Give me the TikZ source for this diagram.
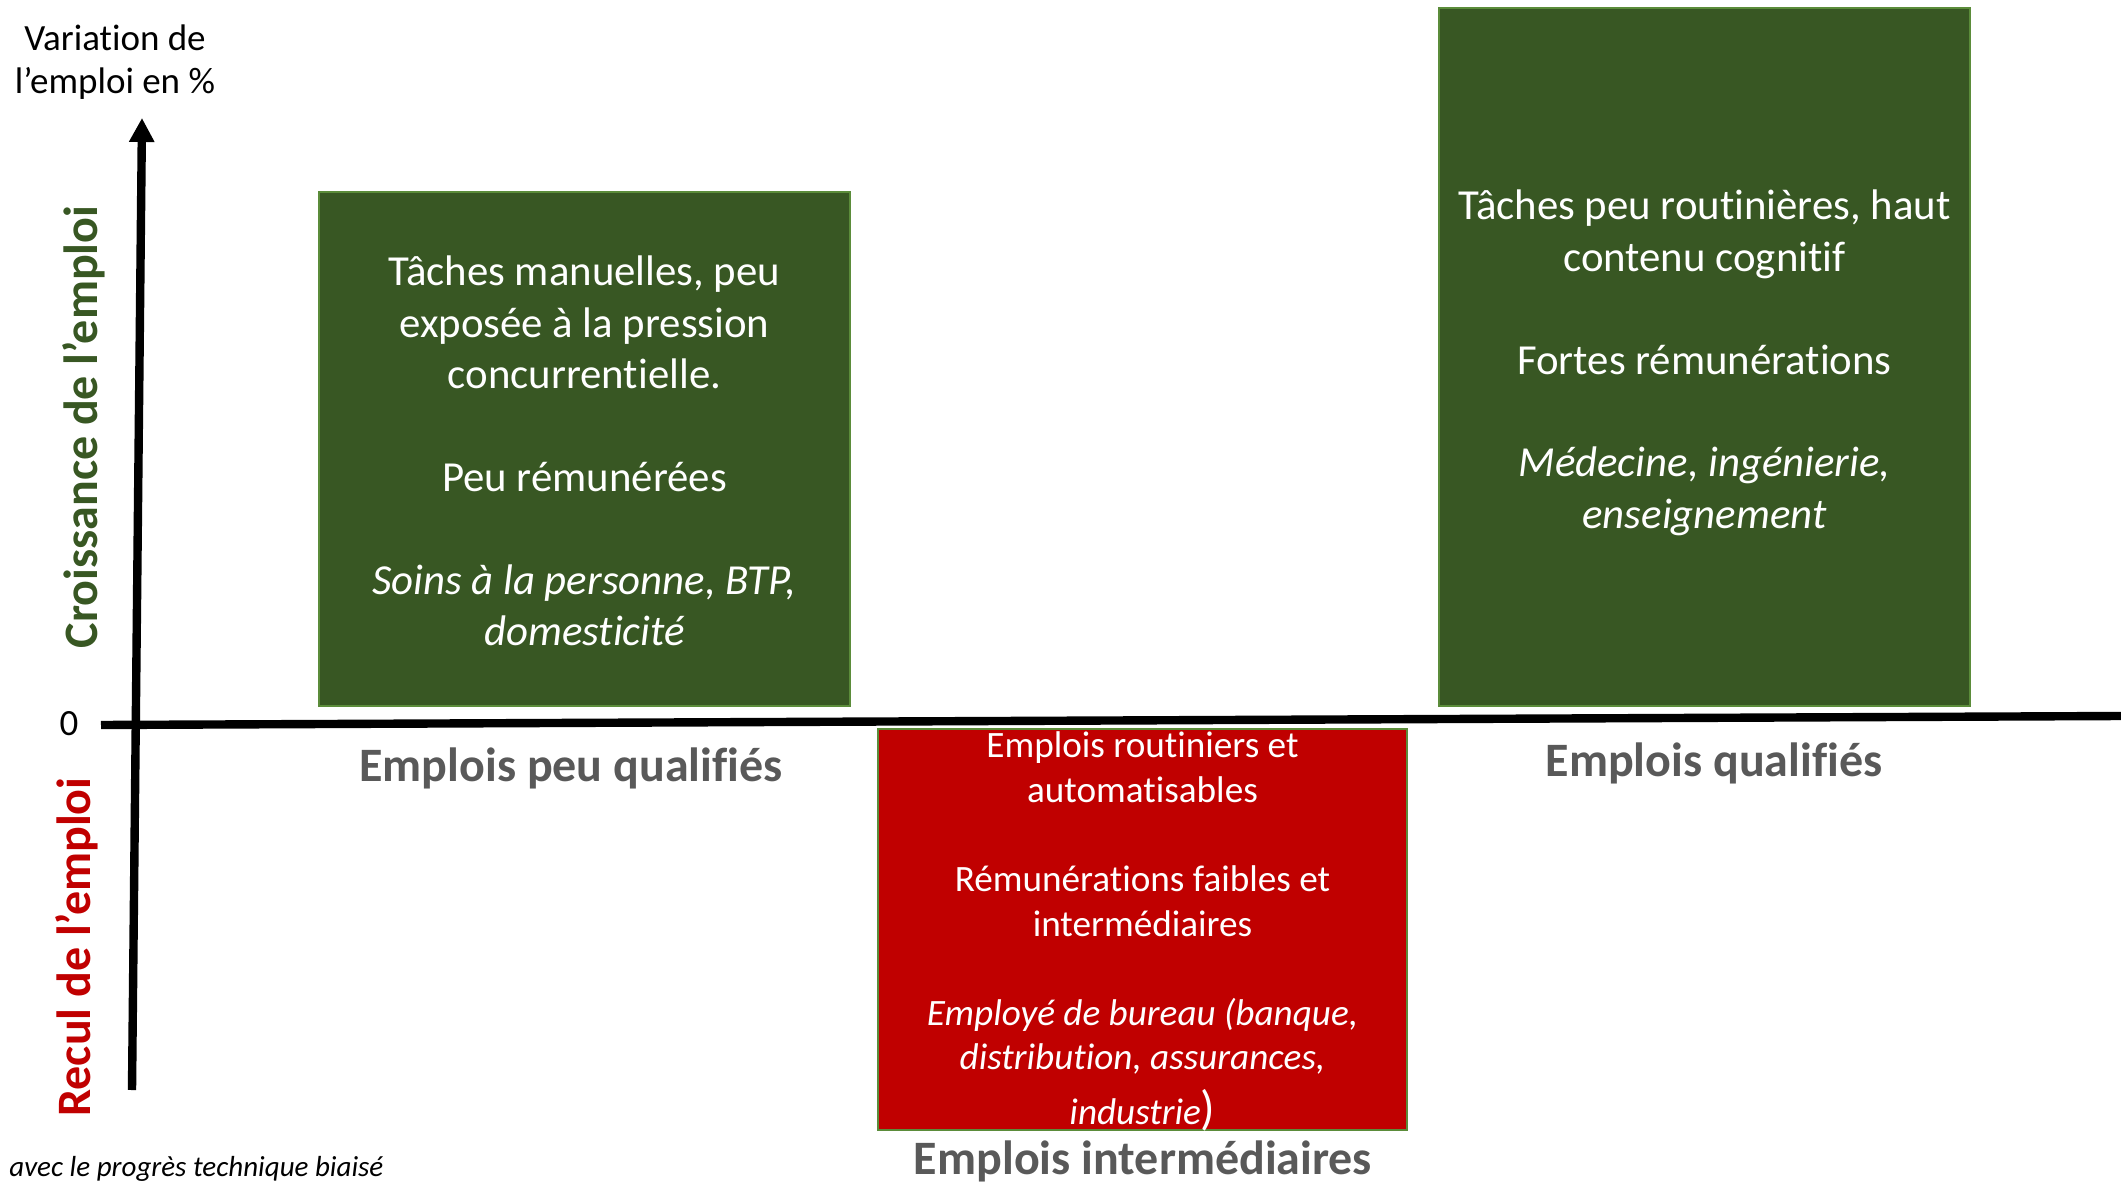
\documentclass[tikz,border=0pt]{standalone}
\usepackage{fontspec}
\setmainfont{Carlito}[Ligatures=NoCommon]
\usetikzlibrary{arrows.meta}
\definecolor{boxgreen}{HTML}{385723}
\definecolor{bordgreen}{HTML}{5B8C3A}
\definecolor{boxred}{HTML}{C00000}
\definecolor{labgray}{HTML}{595959}
\begin{document}
\begin{tikzpicture}[x=0.5pt,y=-0.5pt,
  greenbox/.style={draw=bordgreen,line width=1.2pt,fill=boxgreen,inner sep=0pt},
  redbox/.style={draw=bordgreen,line width=1.2pt,fill=boxred,inner sep=0pt},
  greentext/.style={text=white,align=center,inner sep=0pt,font=\fontsize{21.4}{25.7}\selectfont},
  redtext/.style={text=white,align=center,inner sep=0pt,font=\fontsize{18.6}{22.3}\selectfont},
  catlabel/.style={text=labgray,font=\bfseries\fontsize{24}{28}\selectfont,inner sep=0pt},
  sidelabel/.style={rotate=90,font=\bfseries\fontsize{24}{28}\selectfont,inner sep=0pt},
  axis/.style={line width=4.2pt}]
\useasboundingbox (0,0) rectangle (2121,1182);

% axes
\coordinate (hxl) at (101,725);
\coordinate (hxr) at (2121,716);
\coordinate (vyb) at (132,1090);
\coordinate (vyt) at (142,118);
\draw[axis] (hxl) -- (hxr);
\draw[axis,-{Triangle[width=12pt,length=12pt]}] (vyb) -- (vyt);

\node[align=center,inner sep=0pt,font=\fontsize{18.5}{21.6}\selectfont] (ytitle) at (115,62) {Variation de\\l’emploi en \%};
\node[inner sep=0pt,font=\fontsize{18.5}{21.6}\selectfont] (zero) at (69,724) {0};

\node[sidelabel,text=boxgreen] (croiss) at (84,427) {Croissance de l’emploi};
\node[sidelabel,text=boxred] (recul) at (77,947) {Recul de l’emploi};

% boxes
\node[greenbox,minimum width=265.5pt,minimum height=257pt] (low) at (584.5,449) {};
\node[greentext] (lowtxt) at ([yshift=-1pt]low.center)
  {Tâches manuelles, peu\\exposée à la pression\\concurrentielle.\\[25.7pt]Peu rémunérées\\[25.7pt]\itshape Soins à la personne, BTP,\\\itshape domesticité};
\node[greenbox,minimum width=265.5pt,minimum height=349pt] (high) at (1704.5,357) {};
\node[greentext] (hightxt) at ([yshift=-3pt]high.center)
  {Tâches peu routinières, haut\\contenu cognitif\\[25.7pt]Fortes rémunérations\\[25.7pt]\itshape Médecine, ingénierie,\\\itshape enseignement};
\node[redbox,minimum width=264.5pt,minimum height=200.5pt] (mid) at (1142.5,929.5) {};
\node[redtext] (midtxt) at ([yshift=-1pt]mid.center)
  {Emplois routiniers et\\automatisables\\[22.3pt]Rémunérations faibles et\\intermédiaires\\[22.3pt]\itshape Employé de bureau (banque,\\\itshape distribution, assurances,\\[5pt]\itshape industrie{\upshape\fontsize{24}{24}\selectfont)}};

% category labels
\node[catlabel] (lowlab) at (571,768) {Emplois peu qualifiés};
\node[catlabel] (highlab) at (1714,763) {Emplois qualifiés};
\node[catlabel] (midlab) at (1143,1161) {Emplois intermédiaires};

% footer
\node[anchor=west,inner sep=0pt,font=\itshape\fontsize{14.5}{17}\selectfont] (foot) at (9,1169) {avec le progrès technique biaisé};
\end{tikzpicture}
\end{document}
